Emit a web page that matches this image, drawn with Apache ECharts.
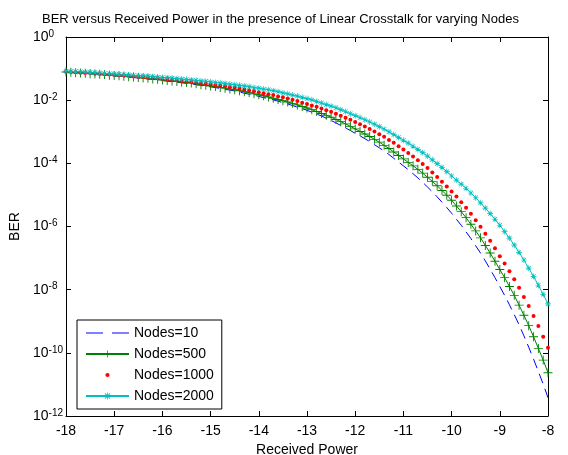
<!DOCTYPE html>
<html>
<head>
<meta charset="utf-8">
<script src="https://cdn.jsdelivr.net/npm/echarts@6/dist/echarts.min.js"></script>
<style>
html,body{margin:0;padding:0;background:#fff;}
#chart{width:568px;height:455px;}
</style>
</head>
<body>
<div id="chart"></div>
<script>
// Received power (x values)
const receivedPower = [
 -18,-17.9,-17.8,-17.7,-17.6,-17.5,-17.4,-17.3,-17.2,-17.1,
 -17,-16.9,-16.8,-16.7,-16.6,-16.5,-16.4,-16.3,-16.2,-16.1,
 -16,-15.9,-15.8,-15.7,-15.6,-15.5,-15.4,-15.3,-15.2,-15.1,
 -15,-14.9,-14.8,-14.7,-14.6,-14.5,-14.4,-14.3,-14.2,-14.1,
 -14,-13.9,-13.8,-13.7,-13.6,-13.5,-13.4,-13.3,-13.2,-13.1,
 -13,-12.9,-12.8,-12.7,-12.6,-12.5,-12.4,-12.3,-12.2,-12.1,
 -12,-11.9,-11.8,-11.7,-11.6,-11.5,-11.4,-11.3,-11.2,-11.1,
 -11,-10.9,-10.8,-10.7,-10.6,-10.5,-10.4,-10.3,-10.2,-10.1,
 -10,-9.9,-9.8,-9.7,-9.6,-9.5,-9.4,-9.3,-9.2,-9.1,
 -9,-8.9,-8.8,-8.7,-8.6,-8.5,-8.4,-8.3,-8.2,-8.1,
 -8
];
// log10(BER)
const log10BerNodes10 = [
 -1.11,-1.12,-1.13,-1.14,-1.15,-1.16,-1.18,-1.19,-1.20,-1.22,
 -1.23,-1.24,-1.25,-1.27,-1.28,-1.30,-1.31,-1.33,-1.34,-1.36,
 -1.38,-1.40,-1.41,-1.43,-1.45,-1.47,-1.49,-1.51,-1.53,-1.56,
 -1.58,-1.60,-1.63,-1.66,-1.68,-1.71,-1.74,-1.78,-1.81,-1.84,
 -1.88,-1.92,-1.95,-1.99,-2.03,-2.08,-2.12,-2.17,-2.22,-2.27,
 -2.32,-2.38,-2.44,-2.50,-2.57,-2.64,-2.72,-2.80,-2.88,-2.96,
 -3.05,-3.13,-3.22,-3.31,-3.41,-3.51,-3.61,-3.72,-3.84,-3.96,
 -4.08,-4.20,-4.33,-4.46,-4.60,-4.75,-4.90,-5.06,-5.23,-5.40,
 -5.58,-5.77,-5.96,-6.17,-6.38,-6.61,-6.84,-7.09,-7.35,-7.62,
 -7.90,-8.18,-8.48,-8.79,-9.11,-9.46,-9.82,-10.20,-10.59,-10.99,
 -11.42
];
const log10BerNodes500 = [
 -1.11,-1.12,-1.13,-1.14,-1.15,-1.16,-1.17,-1.18,-1.19,-1.21,
 -1.22,-1.23,-1.24,-1.26,-1.27,-1.28,-1.30,-1.31,-1.33,-1.34,
 -1.36,-1.38,-1.39,-1.41,-1.43,-1.44,-1.46,-1.48,-1.51,-1.53,
 -1.55,-1.57,-1.60,-1.62,-1.65,-1.67,-1.70,-1.73,-1.76,-1.80,
 -1.83,-1.86,-1.90,-1.94,-1.98,-2.02,-2.06,-2.10,-2.15,-2.20,
 -2.25,-2.30,-2.36,-2.42,-2.48,-2.54,-2.61,-2.68,-2.75,-2.83,
 -2.91,-2.99,-3.07,-3.15,-3.24,-3.33,-3.43,-3.53,-3.64,-3.75,
 -3.86,-3.97,-4.08,-4.19,-4.31,-4.44,-4.57,-4.71,-4.86,-5.01,
 -5.17,-5.35,-5.53,-5.72,-5.93,-6.14,-6.36,-6.60,-6.84,-7.10,
 -7.36,-7.62,-7.90,-8.18,-8.49,-8.81,-9.14,-9.49,-9.86,-10.23,
 -10.63
];
const log10BerNodes1000 = [
 -1.10,-1.11,-1.12,-1.13,-1.14,-1.14,-1.16,-1.17,-1.18,-1.19,
 -1.20,-1.21,-1.22,-1.23,-1.25,-1.26,-1.27,-1.29,-1.30,-1.31,
 -1.33,-1.34,-1.36,-1.37,-1.39,-1.41,-1.42,-1.44,-1.46,-1.48,
 -1.50,-1.52,-1.54,-1.56,-1.59,-1.61,-1.64,-1.66,-1.69,-1.72,
 -1.75,-1.78,-1.81,-1.84,-1.88,-1.91,-1.95,-1.99,-2.03,-2.08,
 -2.12,-2.17,-2.21,-2.26,-2.32,-2.37,-2.43,-2.49,-2.56,-2.62,
 -2.69,-2.76,-2.83,-2.91,-2.99,-3.08,-3.16,-3.26,-3.35,-3.46,
 -3.56,-3.67,-3.78,-3.90,-4.02,-4.15,-4.29,-4.43,-4.58,-4.73,
 -4.89,-5.05,-5.23,-5.41,-5.60,-5.80,-6.01,-6.23,-6.45,-6.69,
 -6.94,-7.17,-7.42,-7.67,-7.94,-8.23,-8.52,-8.83,-9.15,-9.49,
 -9.84
];
const log10BerNodes2000 = [
 -1.08,-1.09,-1.09,-1.10,-1.11,-1.12,-1.13,-1.14,-1.15,-1.16,
 -1.17,-1.18,-1.19,-1.20,-1.21,-1.22,-1.23,-1.24,-1.25,-1.27,
 -1.28,-1.29,-1.30,-1.32,-1.33,-1.34,-1.36,-1.37,-1.39,-1.40,
 -1.42,-1.44,-1.45,-1.47,-1.49,-1.51,-1.53,-1.55,-1.57,-1.60,
 -1.62,-1.65,-1.67,-1.70,-1.73,-1.77,-1.80,-1.84,-1.87,-1.91,
 -1.95,-1.99,-2.04,-2.09,-2.14,-2.19,-2.24,-2.30,-2.36,-2.43,
 -2.49,-2.55,-2.62,-2.69,-2.76,-2.84,-2.92,-3.00,-3.09,-3.18,
 -3.27,-3.36,-3.46,-3.56,-3.66,-3.77,-3.89,-4.01,-4.13,-4.26,
 -4.40,-4.53,-4.66,-4.79,-4.94,-5.09,-5.25,-5.42,-5.59,-5.77,
 -5.96,-6.16,-6.37,-6.59,-6.82,-7.06,-7.32,-7.58,-7.86,-8.15,
 -8.45
];
const seriesNames = ['Nodes=10', 'Nodes=500', 'Nodes=1000', 'Nodes=2000'];
const xTickLabels = [-18,-17,-16,-15,-14,-13,-12,-11,-10,-9,-8];

const FONT = "'Liberation Sans', Arial, sans-serif";
const PLUS = 'path://M4.5,0H5.5V4.5H10V5.5H5.5V10H4.5V5.5H0V4.5H4.5Z';
const STAR = 'path://M0,4.45H10V5.55H0Z M4.45,0H5.55V10H4.45Z M1,1.8L1.8,1L9,8.2L8.2,9Z M8.2,1L9,1.8L1.8,9L1,8.2Z';
const DASH_ICON = 'path://M0,4H17V5.1H0Z M26,4H43V5.1H26Z';
const DOT_ICON = 'path://M0,0H0.01V0.01H0Z M43,9H42.99V8.99H43Z M19.4,4.5L20,2.9L21.5,2.4L23,2.9L23.6,4.5L23,6.1L21.5,6.6L20,6.1Z';

function toData(logs) {
  return receivedPower.map((p, i) => [p, Math.pow(10, logs[i])]);
}

const chart = echarts.init(document.getElementById('chart'), null, {renderer: 'canvas'});
const axisCommon = {
  axisLine: {show: true, lineStyle: {color: '#000', width: 1}},
  axisTick: {show: true, inside: true, length: 5, lineStyle: {color: '#000'}},
  splitLine: {show: false},
  minorTick: {show: false}
};
const option = {
  animation: false,
  backgroundColor: '#fff',
  textStyle: {fontFamily: FONT},
  title: {
    text: 'BER versus Received Power in the presence of Linear Crosstalk for varying Nodes',
    left: 42, top: 13, padding: 0,
    textStyle: {fontSize: 13, fontWeight: 'normal', color: '#000', fontFamily: FONT}
  },
  grid: {left: 66, right: 20, top: 37, bottom: 39, containLabel: false, outerBoundsMode: 'none'},
  xAxis: [
    Object.assign({
      type: 'value', min: -18, max: -8, interval: 1, position: 'bottom',
      name: 'Received Power', nameLocation: 'middle', nameGap: 25,
      nameTextStyle: {fontSize: 14, color: '#000', fontFamily: FONT},
      axisLabel: {fontSize: 14, color: '#000', margin: 8, fontFamily: FONT,
        formatter: v => xTickLabels.includes(Math.round(v)) ? String(Math.round(v)) : ''}
    }, axisCommon),
    Object.assign({
      type: 'value', min: -18, max: -8, interval: 1, position: 'top',
      axisLabel: {show: false}
    }, axisCommon)
  ],
  yAxis: [
    Object.assign({
      type: 'log', logBase: 10, min: 1e-12, max: 1, interval: 2, splitNumber: 6, position: 'left',
      name: 'BER', nameLocation: 'middle', nameGap: 43, nameRotate: 90,
      nameTextStyle: {fontSize: 14, color: '#000', fontFamily: FONT},
      axisLabel: {
        color: '#000', margin: 33, align: 'left', fontFamily: FONT, hideOverlap: false,
        showMinLabel: true, showMaxLabel: true,
        formatter: v => '{b|10}{e|' + Math.round(Math.log10(v)) + '}',
        rich: {
          b: {fontSize: 14, lineHeight: 16, color: '#000', fontFamily: FONT},
          e: {fontSize: 10, lineHeight: 6, verticalAlign: 'top', color: '#000', fontFamily: FONT}
        }
      }
    }, axisCommon),
    Object.assign({
      type: 'log', logBase: 10, min: 1e-12, max: 1, interval: 2, splitNumber: 6, position: 'right',
      axisLabel: {show: false}
    }, axisCommon)
  ],
  legend: {
    orient: 'vertical', left: 77, top: 320,
    data: [
      {name: seriesNames[0], icon: DASH_ICON},
      {name: seriesNames[1]},
      {name: seriesNames[2], icon: DOT_ICON},
      {name: seriesNames[3]}
    ],
    itemWidth: 43, itemHeight: 9, itemGap: 7,
    padding: [6, 8, 6, 8],
    borderColor: '#000', borderWidth: 1, backgroundColor: '#fff',
    textStyle: {fontSize: 14, color: '#000', lineHeight: 14, fontFamily: FONT}
  },
  series: [
    {
      name: seriesNames[0], type: 'line', data: toData(log10BerNodes10),
      symbol: 'none', showSymbol: false,
      lineStyle: {color: '#0000FF', width: 1, type: [10, 6]},
      itemStyle: {color: '#0000FF'}
    },
    {
      name: seriesNames[1], type: 'line', data: toData(log10BerNodes500),
      symbol: PLUS, symbolSize: 9, showSymbol: true,
      lineStyle: {color: '#008000', width: 1},
      itemStyle: {color: '#008000'}
    },
    {
      name: seriesNames[2], type: 'line', data: toData(log10BerNodes1000),
      symbol: 'circle', symbolSize: 4, showSymbol: true,
      lineStyle: {color: '#FF0000', width: 0, opacity: 0},
      itemStyle: {color: '#FF0000'}
    },
    {
      name: seriesNames[3], type: 'line', data: toData(log10BerNodes2000),
      symbol: STAR, symbolSize: 6, showSymbol: true,
      lineStyle: {color: '#00BFBF', width: 1},
      itemStyle: {color: '#00BFBF'}
    }
  ]
};
chart.setOption(option);
</script>
</body>
</html>
